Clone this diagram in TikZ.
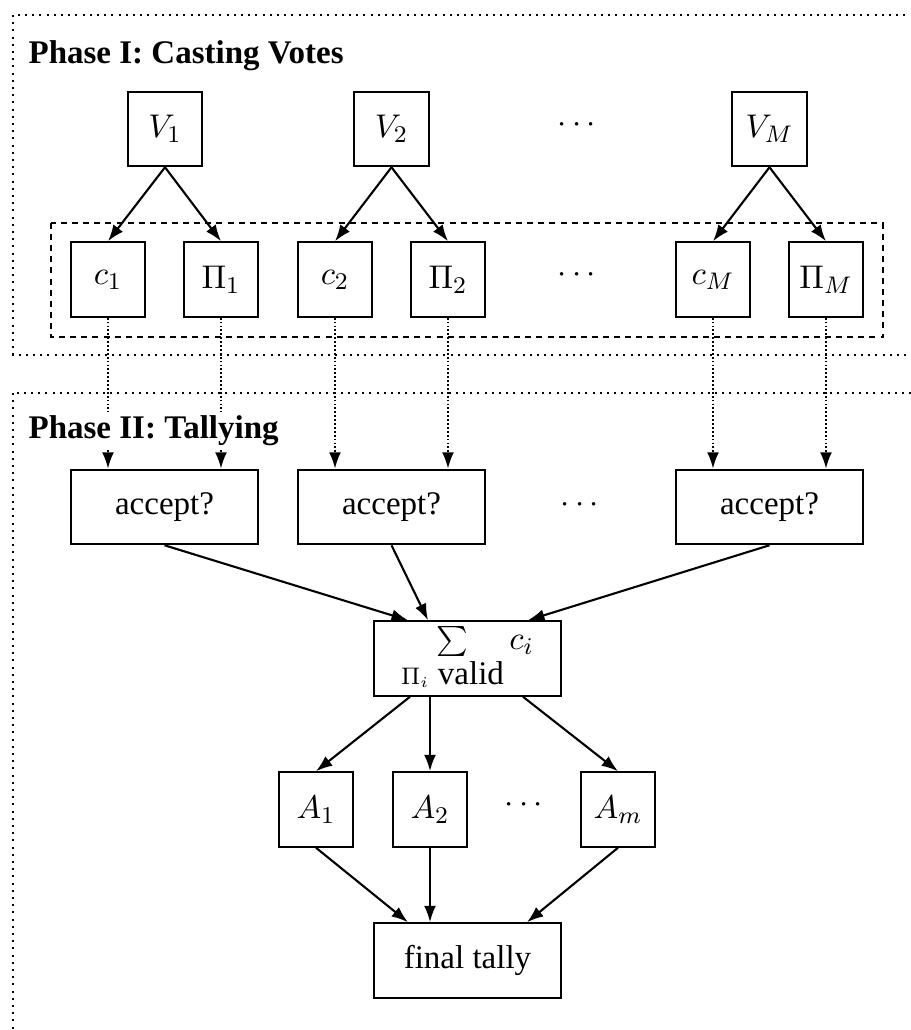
\documentclass[tikz,border=0pt]{standalone}
\usepackage{fontspec}
\setmainfont{Liberation Serif}
\usetikzlibrary{arrows.meta,calc}
\begin{document}
\begin{tikzpicture}[x=0.33333pt,y=-0.33333pt,
  box/.style={draw, line width=0.7pt, minimum width=24.8pt, minimum height=24.8pt,
    inner sep=0pt, font=\fontsize{11}{13}\selectfont},
  wbox/.style={box, minimum width=62.4pt},
  arr/.style={-{Latex[length=5.5pt,width=4pt]}, line width=0.7pt},
  darr/.style={arr, dash pattern=on 0.6pt off 0.7pt},
  phaseframe/.style={line width=0.65pt, dash pattern=on 0.65pt off 1.75pt},
  groupframe/.style={line width=0.7pt, dash pattern=on 2pt off 1.7pt},
  phasetitle/.style={anchor=base west, font=\fontsize{11}{13}\selectfont\bfseries,
    inner sep=1pt, fill=white},
  dotsnode/.style={font=\fontsize{11}{13}\selectfont, inner sep=0pt}]

\clip (0,0) rectangle (911,1030);

% phase frames (open to the right and bottom)
\draw[phaseframe] (13,15) rectangle (940,355);
\draw[phaseframe] (13,393) rectangle (940,1060);

% Phase I: voters
\node[box] (V1) at (165,129) {$V_1$};
\node[box] (V2) at (391.5,129) {$V_2$};
\node[box] (VM) at (769.5,129) {$V_M$};
\node[dotsnode] (dV) at (577,125) {$\cdots$};

% ciphertexts and proofs
\node[box] (c1) at (108,279.5) {$c_1$};
\node[box] (P1) at (221,279.5) {$\Pi_1$};
\node[box] (c2) at (335,279.5) {$c_2$};
\node[box] (P2) at (448,279.5) {$\Pi_2$};
\node[box] (cM) at (713,279.5) {$c_M$};
\node[box] (PM) at (826,279.5) {$\Pi_M$};
\node[dotsnode] (dc) at (577,275) {$\cdots$};

\draw[groupframe] (51,223) rectangle (883,337);

\foreach \v/\c/\p in {V1/c1/P1, V2/c2/P2, VM/cM/PM} {
  \draw[arr] (\v.south) -- (\c.north);
  \draw[arr] (\v.south) -- (\p.north);
}

% Phase II: verification
\node[wbox] (a1) at (164.5,507) {accept?};
\node[wbox] (a2) at (391.5,507) {accept?};
\node[wbox] (a3) at (769.5,507) {accept?};
\node[dotsnode] (da) at (580,505) {$\cdots$};

\foreach \c/\a in {c1/a1, P1/a1, c2/a2, P2/a2, cM/a3, PM/a3} {
  \draw[darr] (\c.south) -- (\c.south |- \a.north);
}

\node[phasetitle] (t1) at (25,63) {Phase I: Casting Votes};
\node[phasetitle] (t2) at (25,438) {Phase II: Tallying};

% homomorphic sum
\node[wbox] (sum) at (467.5,658.5) {$\sum\limits_{\Pi_i\mbox{ valid}} c_i$};

\draw[arr] (a1.south) -- ($(sum.north)+(-59.5,0)$);
\draw[arr] (a2.south) -- ($(sum.north)+(-39.5,0)$);
\draw[arr] (a3.south) -- ($(sum.north)+(60.5,0)$);

% authorities
\node[box] (A1) at (316,809.5) {$A_1$};
\node[box] (A2) at (430,809.5) {$A_2$};
\node[box] (Am) at (618,809.5) {$A_m$};
\node[dotsnode] (dA) at (524,805) {$\cdots$};

\draw[arr] ($(sum.south)+(-57.5,0)$) -- (A1.north);
\draw[arr] (sum.south -| A2.north) -- (A2.north);
\draw[arr] ($(sum.south)+(55.5,0)$) -- (Am.north);

% result
\node[wbox] (fin) at (467.5,960.5) {final tally};

\draw[arr] (A1.south) -- ($(fin.north)+(-59.5,0)$);
\draw[arr] (A2.south) -- (A2.south |- fin.north);
\draw[arr] (Am.south) -- ($(fin.north)+(59.5,0)$);

\end{tikzpicture}
\end{document}
